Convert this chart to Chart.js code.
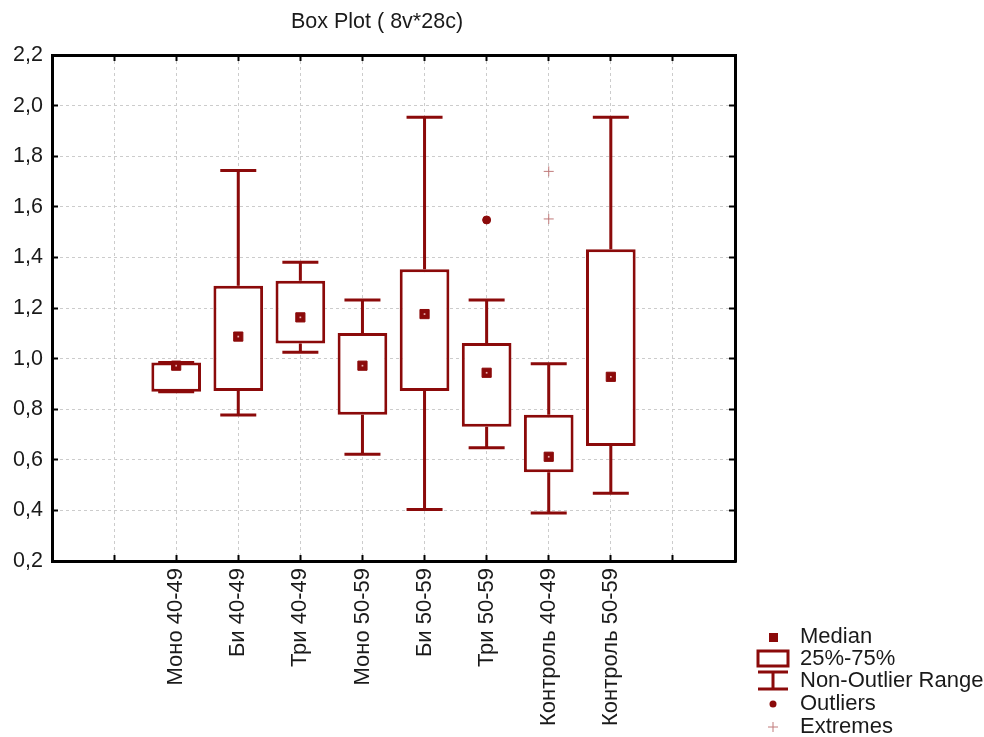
<!DOCTYPE html>
<html>
<head>
<meta charset="utf-8">
<script src="https://cdn.jsdelivr.net/npm/chart.js@4/dist/chart.umd.min.js"></script>
<style>
  body { margin: 0; background: #fff; }
</style>
</head>
<body>
<canvas id="boxChart" width="984" height="737"></canvas>
<script>
// data
const categories = ['Моно 40-49', 'Би 40-49', 'Три 40-49', 'Моно 50-59', 'Би 50-59', 'Три 50-59', 'Контроль 40-49', 'Контроль 50-59'];
const medians = [0.972, 1.087, 1.163, 0.972, 1.176, 0.944, 0.612, 0.928];
const q1 = [0.869, 0.872, 1.060, 0.778, 0.872, 0.731, 0.551, 0.655];
const q3 = [0.985, 1.288, 1.308, 1.101, 1.353, 1.062, 0.778, 1.432];
const whiskerLow = [0.869, 0.777, 1.025, 0.622, 0.404, 0.648, 0.390, 0.468];
const whiskerHigh = [0.985, 1.743, 1.381, 1.232, 1.954, 1.232, 0.980, 1.954];
const outlierCats = [5];
const outlierValues = [1.548];
const extremeCats = [6, 6];
const extremeValues = [1.552, 1.740];
const yTicks = [0.2, 0.4, 0.6, 0.8, 1.0, 1.2, 1.4, 1.6, 1.8, 2.0, 2.2];

const RED = '#8b0a0a';
const FONT = '"Liberation Sans", Arial, sans-serif';
const TEXT = '#1a1a1a';

// whisker segments: low..q1 and q3..high, broken by nulls
const whiskerPoints = [];
categories.forEach((c, i) => {
    whiskerPoints.push({x: i, y: whiskerLow[i]}, {x: i, y: q1[i]}, {x: i, y: null});
    whiskerPoints.push({x: i, y: q3[i]}, {x: i, y: whiskerHigh[i]}, {x: i, y: null});
});
const capPoints = [];
categories.forEach((c, i) => {
    capPoints.push({x: i, y: whiskerLow[i]}, {x: i, y: whiskerHigh[i]});
});

// title and legend, drawn with the chart
const titleAndLegend = {
    id: 'titleAndLegend',
    afterDraw(chart) {
        const ctx = chart.ctx;
        const ix = 773, tx = 800;
        ctx.save();
        ctx.fillStyle = TEXT;
        ctx.font = '21.5px ' + FONT;
        ctx.textBaseline = 'middle';
        ctx.textAlign = 'center';
        ctx.fillText('Box Plot ( 8v*28c)', 377, 22);

        ctx.strokeStyle = RED;
        ctx.fillStyle = RED;
        // median
        ctx.fillRect(ix - 4, 633, 9, 9);
        // box
        ctx.lineWidth = 3;
        ctx.strokeRect(758, 651, 30, 15);
        // whisker
        ctx.beginPath();
        ctx.moveTo(758, 672); ctx.lineTo(788, 672);
        ctx.moveTo(ix, 672); ctx.lineTo(ix, 689);
        ctx.moveTo(758, 689); ctx.lineTo(788, 689);
        ctx.stroke();
        // outlier
        ctx.beginPath();
        ctx.arc(ix, 704, 3.5, 0, Math.PI * 2);
        ctx.fill();
        // extreme
        ctx.strokeStyle = '#c07a7a';
        ctx.lineWidth = 1;
        ctx.beginPath();
        ctx.moveTo(ix - 5, 727); ctx.lineTo(ix + 5, 727);
        ctx.moveTo(ix, 722); ctx.lineTo(ix, 732);
        ctx.stroke();

        ctx.fillStyle = TEXT;
        ctx.font = '22px ' + FONT;
        ctx.textAlign = 'left';
        ctx.fillText('Median', tx, 637);
        ctx.fillText('25%-75%', tx, 659);
        ctx.fillText('Non-Outlier Range', tx, 681);
        ctx.fillText('Outliers', tx, 704);
        ctx.fillText('Extremes', tx, 727);
        ctx.restore();
    }
};

const frameBorder = {display: true, width: 3, color: '#000'};
const gridBase = {
    offset: false,
    color: '#cccccc',
    lineWidth: 1,
    drawTicks: true,
    tickLength: -6,
    tickColor: '#000',
    tickWidth: 2
};

new Chart(document.getElementById('boxChart'), {
    type: 'bar',
    data: {
        datasets: [
            {
                type: 'scatter',
                label: 'Extremes',
                data: extremeCats.map((c, k) => ({x: c, y: extremeValues[k]})),
                pointStyle: 'cross',
                pointRadius: 5,
                borderColor: '#c07a7a',
                borderWidth: 1
            },
            {
                type: 'scatter',
                label: 'Outliers',
                data: outlierCats.map((c, k) => ({x: c, y: outlierValues[k]})),
                pointStyle: 'circle',
                pointRadius: 4,
                backgroundColor: RED,
                borderColor: RED,
                borderWidth: 1
            },
            {
                type: 'scatter',
                label: 'Median dot',
                data: medians.map((m, i) => ({x: i, y: m})),
                pointStyle: 'rect',
                pointRadius: 1.2,
                backgroundColor: '#e8b0b0',
                borderWidth: 0
            },
            {
                type: 'scatter',
                label: 'Median',
                data: medians.map((m, i) => ({x: i, y: m})),
                pointStyle: 'rect',
                pointRadius: 6.5,
                backgroundColor: RED,
                borderColor: RED,
                borderWidth: 1
            },
            {
                type: 'scatter',
                label: 'Caps',
                data: capPoints,
                pointStyle: 'line',
                pointRadius: 18,
                borderColor: RED,
                borderWidth: 3
            },
            {
                type: 'bar',
                label: '25%-75%',
                data: categories.map((c, i) => ({x: i, y: [q1[i], q3[i]]})),
                backgroundColor: '#ffffff',
                borderColor: RED,
                borderWidth: 3,
                borderSkipped: false,
                grouped: false,
                categoryPercentage: 1,
                barPercentage: 0.8
            },
            {
                type: 'line',
                label: 'Non-Outlier Range',
                data: whiskerPoints,
                borderColor: RED,
                borderWidth: 3,
                pointRadius: 0,
                spanGaps: false,
                fill: false
            }
        ]
    },
    options: {
        responsive: false,
        animation: false,
        layout: {padding: 0},
        plugins: {
            legend: {display: false},
            tooltip: {enabled: false},
            title: {display: false}
        },
        scales: {
            x: {
                type: 'linear',
                position: 'bottom',
                offset: false,
                min: -2,
                max: 9,
                afterFit: s => { s.height = 176; },
                ticks: {
                    stepSize: 1,
                    autoSkip: false,
                    maxRotation: 90,
                    minRotation: 90,
                    padding: 13,
                    color: TEXT,
                    font: {family: FONT, size: 22},
                    callback: v => categories[v] || ''
                },
                grid: gridBase,
                border: Object.assign({dash: [3, 3]}, frameBorder)
            },
            y: {
                type: 'linear',
                position: 'left',
                min: 0.2,
                max: 2.2,
                afterFit: s => { s.width = 52; },
                afterBuildTicks: s => { s.ticks = yTicks.map(v => ({value: v})); },
                ticks: {
                    padding: 15,
                    color: TEXT,
                    font: {family: FONT, size: 21.5},
                    callback: v => v.toFixed(1).replace('.', ',')
                },
                grid: gridBase,
                border: Object.assign({dash: [3, 3]}, frameBorder)
            },
            x2: {
                type: 'linear',
                position: 'top',
                offset: false,
                min: -2,
                max: 9,
                afterFit: s => { s.height = 55; },
                ticks: {display: false, stepSize: 1},
                grid: Object.assign({}, gridBase, {drawOnChartArea: false}),
                border: frameBorder
            },
            y2: {
                type: 'linear',
                position: 'right',
                min: 0.2,
                max: 2.2,
                afterFit: s => { s.width = 249; },
                afterBuildTicks: s => { s.ticks = yTicks.map(v => ({value: v})); },
                ticks: {display: false},
                grid: Object.assign({}, gridBase, {drawOnChartArea: false}),
                border: frameBorder
            }
        }
    },
    plugins: [titleAndLegend]
});
</script>
</body>
</html>
